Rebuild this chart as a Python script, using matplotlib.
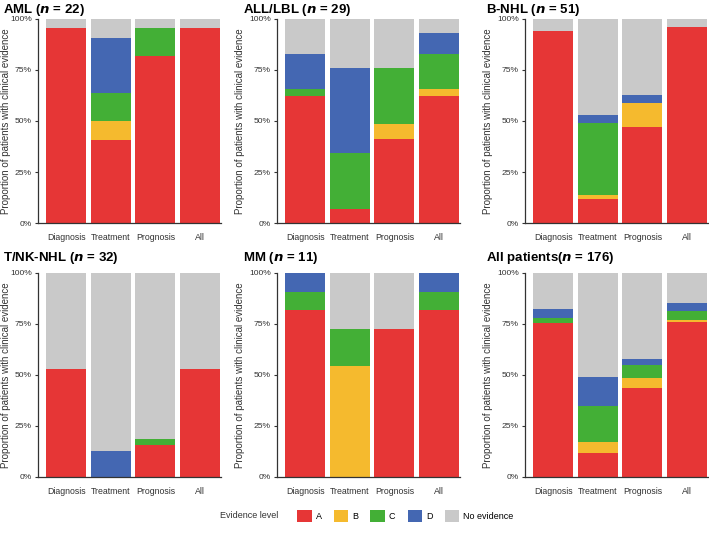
import numpy as np
import matplotlib
matplotlib.use("Agg")
import matplotlib.pyplot as plt
from matplotlib.patches import Patch

plt.rcParams["font.family"] = ["Liberation Sans", "DejaVu Sans"]

# Data (percent of patients)
CATEGORIES = ["Diagnosis", "Treatment", "Prognosis", "All"]
LEVELS = ["A", "B", "C", "D"]
COLORS = ["#E63636", "#F5BA2E", "#43AF36", "#4467B2", "#C9C9C9"]

PANEL_NAMES = ["AML", "ALL/LBL", "B-NHL", "T/NK-NHL", "MM", "All patients"]
PANEL_N = [22, 29, 51, 32, 11, 176]

# each list: values per category (Diagnosis, Treatment, Prognosis, All)
aml_a = [95.5, 40.9, 81.8, 95.5]
aml_b = [0, 9.1, 0, 0]
aml_c = [0, 13.6, 13.6, 0]
aml_d = [0, 27.3, 0, 0]

all_a = [62.1, 6.9, 41.4, 62.1]
all_b = [0, 0, 6.9, 3.4]
all_c = [3.4, 27.6, 27.6, 17.2]
all_d = [17.2, 41.4, 0, 10.3]

bnhl_a = [94.1, 11.8, 47.1, 96.1]
bnhl_b = [0, 2.0, 11.8, 0]
bnhl_c = [0, 35.3, 0, 0]
bnhl_d = [0, 3.9, 3.9, 0]

tnk_a = [53.1, 0, 15.6, 53.1]
tnk_b = [0, 0, 0, 0]
tnk_c = [0, 0, 3.1, 0]
tnk_d = [0, 12.5, 0, 0]

mm_a = [81.8, 0, 72.7, 81.8]
mm_b = [0, 54.5, 0, 0]
mm_c = [9.1, 18.2, 0, 9.1]
mm_d = [9.1, 0, 0, 9.1]

tot_a = [75.6, 11.9, 43.8, 76.1]
tot_b = [0, 5.1, 4.5, 0.6]
tot_c = [2.3, 17.6, 6.8, 4.5]
tot_d = [4.5, 14.2, 2.8, 4.0]

PANEL_DATA = [
    [aml_a, aml_b, aml_c, aml_d],
    [all_a, all_b, all_c, all_d],
    [bnhl_a, bnhl_b, bnhl_c, bnhl_d],
    [tnk_a, tnk_b, tnk_c, tnk_d],
    [mm_a, mm_b, mm_c, mm_d],
    [tot_a, tot_b, tot_c, tot_d],
]

fig = plt.figure(figsize=(7.09, 5.47), dpi=100)

lefts = [0.0536, 0.3907, 0.7405]
bottoms = [0.5923, 0.1280]
width, height = 0.258, 0.373
title_x = [0.0042, 0.343, 0.685]
title_y = [0.977, 0.523]

x_pos = np.arange(len(CATEGORIES))
for i, (name, n, data) in enumerate(zip(PANEL_NAMES, PANEL_N, PANEL_DATA)):
    row, col = divmod(i, 3)
    ax = fig.add_axes([lefts[col], bottoms[row], width, height])
    bottom = np.zeros(len(CATEGORIES))
    for vals, color in zip(data, COLORS):
        vals = np.array(vals, dtype=float)
        ax.bar(x_pos, vals, bottom=bottom, width=0.9, color=color, linewidth=0)
        bottom += vals
    # remainder = no evidence
    ax.bar(x_pos, 100 - bottom, bottom=bottom, width=0.9, color=COLORS[4], linewidth=0)

    ax.set_xlim(-0.63, 3.47)
    ax.set_ylim(0, 100)
    ax.set_yticks([0, 25, 50, 75, 100])
    ax.set_yticklabels(["0%", "25%", "50%", "75%", "100%"], fontsize=6.1, color="#333333")
    ax.set_xticks(x_pos)
    ax.set_xticklabels(CATEGORIES, fontsize=6.3, color="#333333")
    ax.tick_params(axis="x", length=0, pad=7)
    ax.tick_params(axis="y", length=2.5, width=0.8, pad=2, color="#333333")
    for side in ["top", "right"]:
        ax.spines[side].set_visible(False)
    for side in ["left", "bottom"]:
        ax.spines[side].set_color("#333333")
        ax.spines[side].set_linewidth(0.9)
    ax.set_ylabel("Proportion of patients with clinical evidence", fontsize=7, color="#333333",
                  labelpad=-0.5 if col == 0 else 3)

    sep = "" if name == "All patients" else " "
    fig.text(title_x[col], title_y[row],
             name + sep + r"($\mathbfit{n}$ = " + str(n) + ")",
             fontsize=9.5, fontweight="bold", ha="left", va="baseline")

# legend
fig.text(0.310, 0.057, "Evidence level", fontsize=6.5, color="#333333", va="center")
handles = [Patch(facecolor=c, edgecolor="none") for c in COLORS]
fig.legend(handles, ["A", "B", "C", "D", "No evidence"], ncol=5, frameon=False,
           loc="center left", bbox_to_anchor=(0.419, 0.057), fontsize=6.5,
           handlelength=1.6, handleheight=1.6, handletextpad=0.45,
           columnspacing=1.35, borderaxespad=0, borderpad=0)

fig.savefig("out.png", dpi=100)
